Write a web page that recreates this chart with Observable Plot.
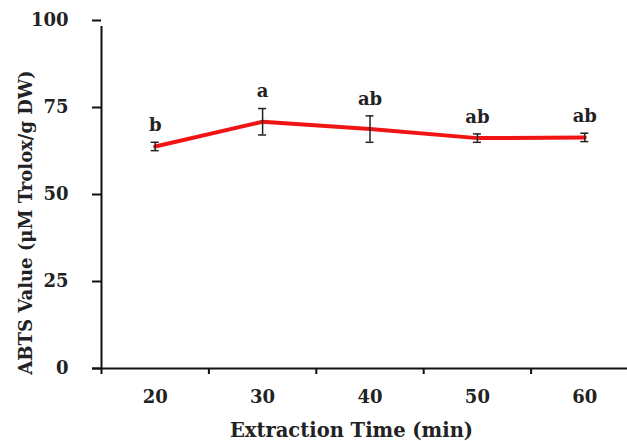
<!DOCTYPE html>
<html>
<head>
<meta charset="utf-8">
<script src="https://cdn.jsdelivr.net/npm/d3@7"></script>
<script src="https://cdn.jsdelivr.net/npm/@observablehq/plot@0.6"></script>
<style>
  html, body { margin: 0; padding: 0; background: #fff; }
</style>
</head>
<body>
<div id="chart"></div>
<script>
const times = [20, 30, 40, 50, 60];
const abts = [63.8, 70.9, 68.8, 66.2, 66.4];
const errs = [1.2, 3.8, 3.8, 1.2, 1.2];
const letters = ["b", "a", "ab", "ab", "ab"];
const yTicks = [0, 25, 50, 75, 100];
const xTitle = "Extraction Time (min)";
const yTitle = "ABTS Value (μM Trolox/g DW)";

const data = times.map((t, i) => ({
  t, v: abts[i], lo: abts[i] - errs[i], hi: abts[i] + errs[i], g: letters[i]
}));
const bounds = times.map(t => t - 5);

const font = "'DejaVu Serif', 'Liberation Serif', serif";

const chart = Plot.plot({
  width: 627,
  height: 441,
  marginLeft: 101,
  marginRight: 0,
  marginTop: 20,
  marginBottom: 73,
  style: { fontFamily: font, fontWeight: "bold", fontSize: "18px", color: "#222", background: "#fff" },
  x: { domain: [15, 65], range: [101, 638] },
  y: { domain: [0, 100], range: [368, 20] },
  marks: [
    Plot.axisY({ ticks: yTicks, tickSize: 9, tickPadding: 24, strokeWidth: 2, label: null, stroke: "#111" }),
    Plot.axisX({ ticks: times, tickSize: 0, tickPadding: 22, label: null, tickFormat: d => String(d) }),
    Plot.axisX({ ticks: bounds, tickSize: 6, tickPadding: 0, label: null, strokeWidth: 2, stroke: "#111", tickFormat: () => "" }),
    Plot.ruleX([15], { y1: 0, y2: 100, stroke: "#111", strokeWidth: 2, insetBottom: -6 }),
    Plot.ruleY([0], { stroke: "#111", strokeWidth: 2, insetLeft: -9 }),
    Plot.line(data, { x: "t", y: "v", stroke: "#f01414", strokeWidth: 4 }),
    Plot.ruleX(data, { x: "t", y1: "lo", y2: "hi", stroke: "#222", strokeWidth: 1.5 }),
    Plot.ruleY(data, { y: "lo", x1: "t", x2: "t", insetLeft: -4, insetRight: -4, stroke: "#222", strokeWidth: 1.5 }),
    Plot.ruleY(data, { y: "hi", x1: "t", x2: "t", insetLeft: -4, insetRight: -4, stroke: "#222", strokeWidth: 1.5 }),
    Plot.text(data, { x: "t", y: "hi", text: "g", dy: -17, lineAnchor: "middle", fontSize: 18, fill: "#222" }),
    Plot.text([xTitle], { frameAnchor: "bottom", lineAnchor: "middle", dx: -13, dy: 62, fontSize: 19.5, fill: "#222" }),
    Plot.text([yTitle], { frameAnchor: "left", rotate: -90, lineAnchor: "middle", textAnchor: "middle", dx: -75, dy: 28, fontSize: 18, fill: "#222" })
  ]
});
document.getElementById("chart").appendChild(chart);
</script>
</body>
</html>
